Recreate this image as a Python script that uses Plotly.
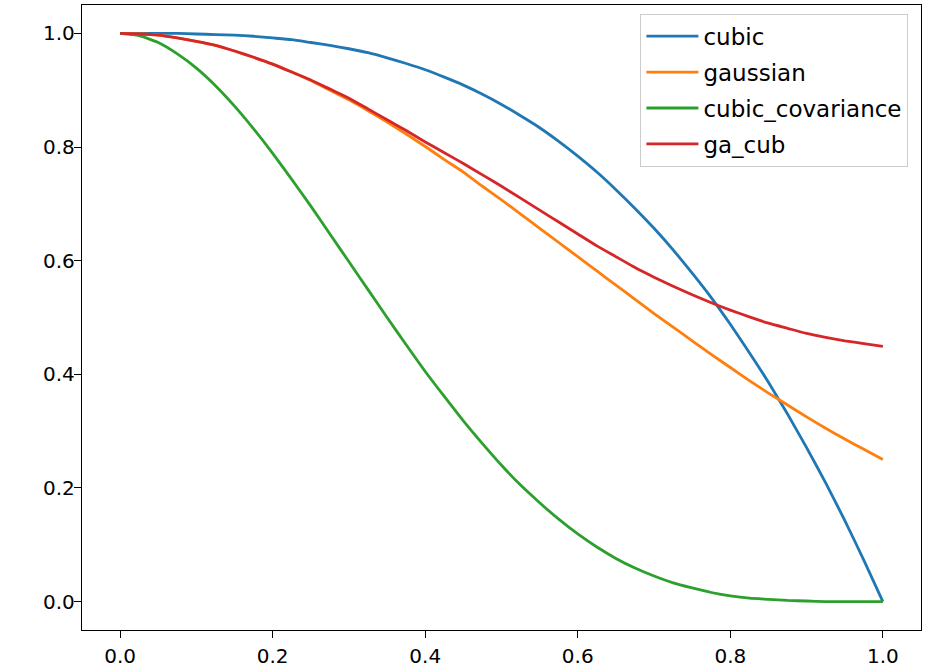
import plotly.graph_objects as go

x_vals = [0.0, 0.025, 0.05, 0.075, 0.1, 0.125, 0.15, 0.175, 0.2, 0.225,
          0.25, 0.275, 0.3, 0.325, 0.35, 0.375, 0.4, 0.425, 0.45, 0.475,
          0.5, 0.525, 0.55, 0.575, 0.6, 0.625, 0.65, 0.675, 0.7, 0.725,
          0.75, 0.775, 0.8, 0.825, 0.85, 0.875, 0.9, 0.925, 0.95, 0.975, 1.0]

cubic = [1.0, 1.0, 1.0, 1.0, 0.999, 0.998, 0.997, 0.995, 0.992, 0.989,
         0.984, 0.979, 0.973, 0.966, 0.957, 0.947, 0.936, 0.923, 0.909, 0.893,
         0.875, 0.855, 0.834, 0.810, 0.784, 0.756, 0.725, 0.692, 0.657, 0.619,
         0.578, 0.535, 0.488, 0.438, 0.386, 0.330, 0.271, 0.209, 0.143, 0.073, 0.0]

gaussian = [1.0, 0.999, 0.997, 0.992, 0.986, 0.979, 0.969, 0.958, 0.946, 0.932,
            0.917, 0.900, 0.883, 0.864, 0.844, 0.823, 0.801, 0.778, 0.756, 0.731,
            0.707, 0.682, 0.657, 0.632, 0.607, 0.582, 0.557, 0.532, 0.507, 0.483,
            0.459, 0.435, 0.412, 0.389, 0.367, 0.346, 0.325, 0.305, 0.286, 0.268, 0.25]

cubic_covariance = [1.0, 0.996, 0.984, 0.964, 0.939, 0.908, 0.872, 0.832, 0.789, 0.743,
                    0.696, 0.647, 0.598, 0.549, 0.500, 0.452, 0.405, 0.361, 0.318, 0.278,
                    0.240, 0.205, 0.174, 0.145, 0.119, 0.096, 0.076, 0.059, 0.045, 0.033,
                    0.024, 0.016, 0.010, 0.006, 0.004, 0.002, 0.001, 0.0, 0.0, 0.0, 0.0]

ga_cub = [1.0, 0.999, 0.997, 0.992, 0.986, 0.979, 0.969, 0.958, 0.946, 0.932,
          0.918, 0.902, 0.886, 0.867, 0.848, 0.829, 0.809, 0.790, 0.771, 0.751,
          0.731, 0.710, 0.689, 0.668, 0.647, 0.626, 0.607, 0.588, 0.571, 0.555,
          0.540, 0.526, 0.513, 0.501, 0.490, 0.481, 0.472, 0.465, 0.459, 0.454, 0.449]

series_names = ["cubic", "gaussian", "cubic_covariance", "ga_cub"]
series_values = [cubic, gaussian, cubic_covariance, ga_cub]
series_colors = ["#1f77b4", "#ff7f0e", "#2ca02c", "#d62728"]

tick_vals = [0.0, 0.2, 0.4, 0.6, 0.8, 1.0]
tick_text = ["0.0", "0.2", "0.4", "0.6", "0.8", "1.0"]

fig = go.Figure()
for i, (name, vals, col) in enumerate(zip(series_names, series_values, series_colors)):
    fig.add_trace(go.Scatter(
        x=x_vals, y=vals, mode="lines", name=name,
        line=dict(color=col, width=2.8, shape="spline", smoothing=0.5),
        legendgroup=f"g{i}",
    ))

font = dict(family="DejaVu Sans, sans-serif", size=20, color="#000000")
legend_font = dict(family="DejaVu Sans, sans-serif", size=23, color="#000000")

axis_common = dict(
    showline=True, linecolor="#000000", linewidth=1.4, mirror=True,
    ticks="outside", ticklen=7, tickwidth=1.4, tickcolor="#000000",
    showgrid=False, zeroline=False, automargin=False,
    tickvals=tick_vals, ticktext=tick_text, tickfont=font,
)

fig.update_layout(
    width=936, height=669,
    margin=dict(l=82, r=15, t=5, b=39),
    paper_bgcolor="white", plot_bgcolor="white",
    font=font,
    showlegend=True,
    legend=dict(
        x=0.985, y=0.986, xanchor="right", yanchor="top",
        bgcolor="rgba(255,255,255,0.8)", bordercolor="#cccccc", borderwidth=1,
        font=legend_font, tracegroupgap=3, itemwidth=52,
    ),
    xaxis=dict(range=[-0.05, 1.05], ticklabelstandoff=1, **axis_common),
    yaxis=dict(range=[-0.05, 1.05], ticklabelstandoff=-5, **axis_common),
)

fig.write_html("out.html", config={"displayModeBar": False},
               post_script="document.body.style.margin='0px';")
